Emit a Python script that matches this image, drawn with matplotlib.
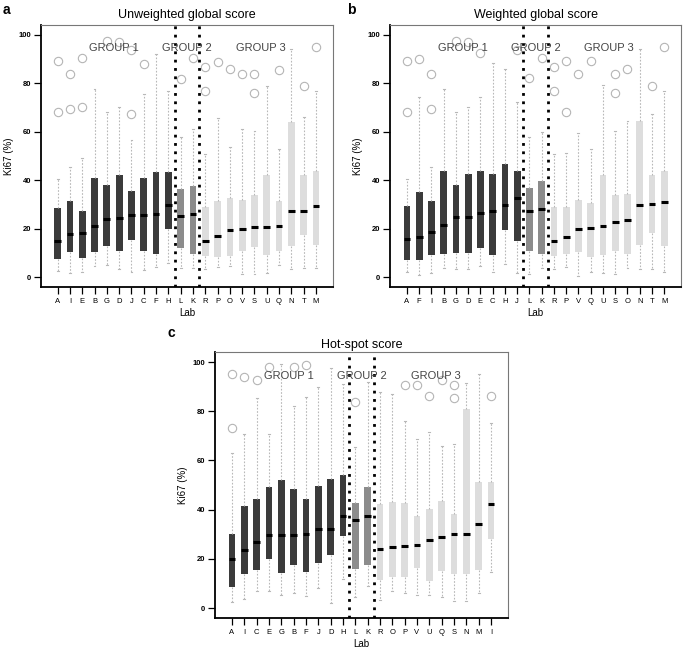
import matplotlib
matplotlib.use("Agg")
import matplotlib.pyplot as plt

plt.rcParams['font.family'] = ['Liberation Sans', 'DejaVu Sans']

# ---------------- Panel a: Unweighted global score ----------------
labs_a = ["A", "I", "E", "B", "G", "D", "J", "C", "F", "H", "L", "K",
          "R", "P", "O", "V", "S", "U", "Q", "N", "T", "M"]
q1_a = [7.5, 10.3, 8.0, 10.5, 12.7, 11.0, 15.2, 10.7, 9.6, 20.0, 12.2, 9.8,
        8.8, 8.2, 8.8, 10.7, 12.3, 9.0, 11.0, 12.7, 17.5, 13.2]
med_a = [15.0, 18.0, 18.3, 21.0, 24.0, 24.5, 25.5, 25.5, 26.0, 29.8, 25.2, 26.2,
         15.0, 17.0, 19.3, 19.7, 20.7, 20.7, 21.3, 27.5, 27.5, 29.2]
q3_a = [28.7, 31.3, 27.2, 41.0, 38.0, 42.2, 35.7, 41.0, 43.3, 43.3, 36.2, 37.7,
        28.8, 31.3, 32.7, 32.0, 34.0, 42.0, 31.3, 64.0, 42.2, 43.7]
wlo_a = [2.5, 1.8, 2.3, 4.8, 5.0, 3.3, 2.0, 3.0, 4.3, 6.0, 4.0, 4.0,
         3.3, 4.3, 4.5, 1.5, 1.5, 1.8, 5.0, 3.5, 4.0, 3.8]
whi_a = [40.7, 45.5, 49.0, 77.5, 68.2, 70.0, 56.5, 75.5, 92.0, 77.0, 58.0, 61.0,
         51.0, 65.5, 53.8, 61.2, 60.5, 79.0, 53.0, 94.0, 66.0, 77.0]
out_a = [[89.0, 68.0], [84.0, 69.5], [90.5, 70.3], [], [97.5], [96.8], [93.5, 67.2],
         [88.0], [], [], [81.8], [90.3], [86.7, 77.0], [88.8], [86.0], [83.8],
         [83.7, 76.0], [], [85.3], [], [79.0], [94.8]]

# ---------------- Panel b: Weighted global score ----------------
labs_b = ["A", "F", "I", "B", "G", "D", "E", "C", "H", "J", "L", "K",
          "R", "P", "V", "Q", "U", "S", "O", "N", "T", "M"]
q1_b = [7.0, 7.2, 9.3, 9.7, 10.0, 10.2, 12.0, 9.1, 19.3, 14.8, 10.7, 9.8,
        8.8, 9.7, 10.5, 8.3, 9.0, 11.0, 9.6, 13.3, 18.3, 13.0]
med_b = [15.8, 16.5, 18.5, 21.5, 24.7, 25.0, 26.3, 27.3, 30.0, 32.8, 27.3, 28.3,
         14.8, 16.5, 20.0, 20.3, 21.0, 22.6, 23.5, 30.0, 30.3, 31.2]
q3_b = [29.2, 35.2, 31.5, 43.8, 38.2, 42.7, 43.8, 42.5, 46.7, 44.0, 36.8, 39.8,
        29.0, 28.8, 31.7, 30.5, 42.0, 34.0, 34.2, 64.3, 42.2, 43.7]
wlo_b = [2.3, 0.8, 1.8, 3.7, 3.5, 3.3, 4.5, 2.2, 5.5, 1.7, 1.5, 4.0,
         3.3, 4.3, 0.7, 2.3, 1.7, 1.5, 3.7, 3.3, 3.5, 2.0]
whi_b = [40.7, 74.2, 45.5, 77.5, 68.2, 70.2, 74.2, 88.3, 86.0, 72.3, 58.0, 60.0,
         51.0, 51.3, 59.5, 53.0, 79.2, 60.5, 64.5, 94.0, 67.2, 77.0]
out_b = [[89.2, 68.0], [90.0], [84.0, 69.5], [], [97.3], [96.8], [92.5], [], [],
         [93.5], [82.0], [90.3], [86.7, 77.0], [89.0, 68.3], [83.7], [89.3], [],
         [83.8, 76.0], [86.0], [], [79.0], [94.8]]

# ---------------- Panel c: Hot-spot score ----------------
labs_c = ["A", "I", "C", "E", "G", "B", "F", "J", "D", "H", "L", "K",
          "R", "O", "P", "V", "U", "Q", "S", "N", "M", "I"]
q1_c = [8.8, 13.7, 15.5, 20.0, 14.3, 17.5, 14.7, 18.3, 21.5, 29.3, 15.8, 17.5,
        11.3, 12.8, 12.8, 16.5, 11.2, 15.2, 14.0, 14.0, 15.7, 28.2]
med_c = [19.8, 23.5, 27.0, 29.7, 29.8, 29.8, 30.3, 32.0, 32.2, 37.5, 36.0, 37.5,
         24.0, 24.8, 25.3, 25.8, 27.5, 29.0, 30.0, 30.2, 34.2, 42.3]
q3_c = [30.3, 41.5, 44.3, 49.2, 52.0, 48.5, 44.2, 49.5, 52.5, 54.2, 42.7, 49.2,
        42.5, 43.2, 42.8, 37.5, 40.2, 43.5, 38.3, 80.8, 51.2, 51.2]
wlo_c = [2.5, 3.7, 7.0, 7.0, 5.5, 6.0, 5.0, 8.0, 2.3, 12.0, 4.5, 9.0,
         3.3, 7.0, 6.2, 5.5, 5.3, 4.5, 2.8, 3.0, 6.2, 14.5]
whi_c = [63.0, 70.8, 85.5, 70.7, 99.0, 82.0, 85.7, 89.7, 97.5, 91.0, 65.5, 92.0,
         88.0, 87.0, 76.0, 68.8, 71.5, 66.0, 66.8, 91.3, 95.2, 75.3]
out_c = [[95.0, 73.0], [93.8], [92.8], [98.0], [], [98.0], [98.8], [], [], [],
         [83.8], [], [], [], [90.7], [90.8], [86.3], [92.5], [90.7, 85.2], [], [],
         [86.0]]

groups = ["GROUP 1", "GROUP 2", "GROUP 3"]
n_g1, n_g2 = 10, 2
col_g1, col_g2, col_g3 = "#3b3b3b", "#8c8c8c", "#dddddd"


def draw_panel(ax, labs, q1, med, q3, wlo, whi, outs, title, tpad, letter, letter_xy):
    n = len(labs)
    stats = []
    for i in range(n):
        stats.append(dict(med=med[i], q1=q1[i], q3=q3[i], whislo=wlo[i],
                          whishi=whi[i], fliers=outs[i], label=labs[i]))
    pos = list(range(1, n + 1))
    bp = ax.bxp(stats, positions=pos, widths=0.55, patch_artist=True,
                showfliers=True,
                boxprops=dict(linewidth=0),
                medianprops=dict(color="black", linewidth=2.2, solid_capstyle="butt"),
                whiskerprops=dict(color="#b8b8b8", linewidth=0.8, linestyle=(0, (1.5, 1.5))),
                capprops=dict(color="#b8b8b8", linewidth=0.8),
                capwidths=0.15,
                flierprops=dict(marker="o", markerfacecolor="none",
                                markeredgecolor="#b5b5b5", markersize=6,
                                markeredgewidth=0.8, linestyle="none"))
    for i, patch in enumerate(bp["boxes"]):
        if i < n_g1:
            c = col_g1
        elif i < n_g1 + n_g2:
            c = col_g2
        else:
            c = col_g3
        patch.set_facecolor(c)
        patch.set_edgecolor(c)
    ax.set_xlim(-0.38, n + 1.38)
    ax.set_ylim(-4, 104)
    ax.set_yticks([0, 20, 40, 60, 80, 100])
    ax.set_xticks(pos)
    ax.set_xticklabels(labs, fontsize=5.5)
    for t in ax.get_yticklabels():
        t.set_fontsize(5.5)
        t.set_fontweight("bold")
    ax.tick_params(axis="both", direction="out", length=5, width=0.9, pad=2)
    ax.tick_params(axis="x", pad=3)
    for s in ["left", "bottom"]:
        ax.spines[s].set_linewidth(1.3)
        ax.spines[s].set_color("black")
    for s in ["top", "right"]:
        ax.spines[s].set_linewidth(0.8)
        ax.spines[s].set_color("#777777")
    ax.axvline(n_g1 + 0.5, color="black", linestyle=(0, (1, 2)), linewidth=2.0)
    ax.axvline(n_g1 + n_g2 + 0.5, color="black", linestyle=(0, (1, 2)), linewidth=2.0)
    ax.text(5.6, 94.5, groups[0], ha="center", va="center", fontsize=8, color="#444444")
    ax.text(11.5, 94.5, groups[1], ha="center", va="center", fontsize=8, color="#444444")
    ax.text(17.5, 94.5, groups[2], ha="center", va="center", fontsize=8, color="#444444")
    ax.set_ylabel("Ki67 (%)", fontsize=7, labelpad=3)
    ax.set_xlabel("Lab", fontsize=7, labelpad=2)
    ax.set_title(title, fontsize=9, pad=tpad)
    ax.figure.text(letter_xy[0], letter_xy[1], letter, fontsize=10, fontweight="bold",
                   ha="left", va="center")


fig = plt.figure(figsize=(6.85, 6.5), dpi=100)
ax_a = fig.add_axes([0.0594, 0.5585, 0.4267, 0.403])
ax_b = fig.add_axes([0.5693, 0.5585, 0.4250, 0.403])
ax_c = fig.add_axes([0.3139, 0.0492, 0.4277, 0.409])

draw_panel(ax_a, labs_a, q1_a, med_a, q3_a, wlo_a, whi_a, out_a,
           "Unweighted global score", 5, "a", (0.004, 0.985))
draw_panel(ax_b, labs_b, q1_b, med_b, q3_b, wlo_b, whi_b, out_b,
           "Weighted global score", 5, "b", (0.506, 0.985))
draw_panel(ax_c, labs_c, q1_c, med_c, q3_c, wlo_c, whi_c, out_c,
           "Hot-spot score", 3, "c", (0.245, 0.487))

fig.savefig("out.png", dpi=100)
